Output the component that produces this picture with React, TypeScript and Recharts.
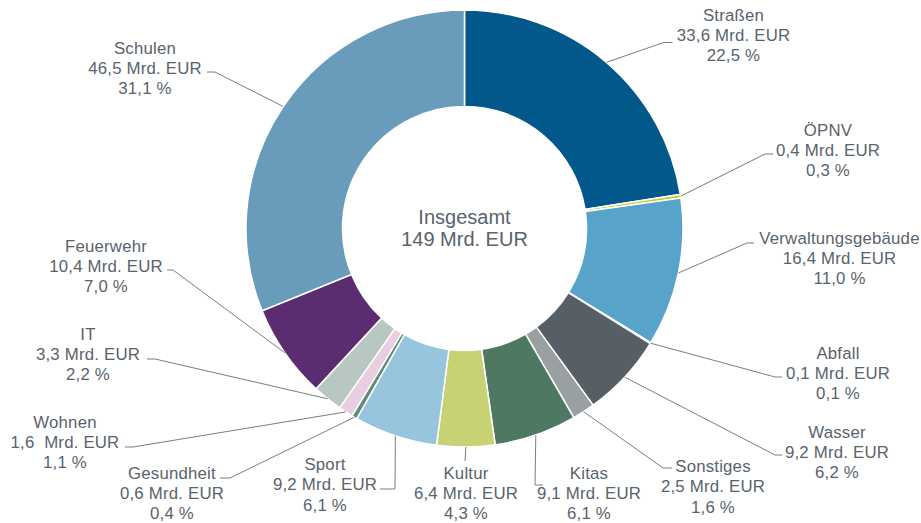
import { PieChart, Pie, Cell, Label } from "recharts";

const NAMES = [
  "Straßen",
  "ÖPNV",
  "Verwaltungsgebäude",
  "Abfall",
  "Wasser",
  "Sonstiges",
  "Kitas",
  "Kultur",
  "Sport",
  "Gesundheit",
  "Wohnen",
  "IT",
  "Feuerwehr",
  "Schulen",
];
const VALUES = [33.6, 0.4, 16.4, 0.1, 9.2, 2.5, 9.1, 6.4, 9.2, 0.6, 1.6, 3.3, 10.4, 46.5];
const SHARES = [22.5, 0.3, 11.0, 0.1, 6.2, 1.6, 6.1, 4.3, 6.1, 0.4, 1.1, 2.2, 7.0, 31.1];
const TOTAL_LABEL = ["Insgesamt", "149 Mrd. EUR"];

const COLORS = [
  "#02588b",
  "#bccf1e",
  "#57a3ca",
  "#8a9096",
  "#575f66",
  "#9a9fa2",
  "#4e7862",
  "#c8d173",
  "#97c5de",
  "#5e8c74",
  "#e9cde1",
  "#b8c7c2",
  "#5b2c6f",
  "#699cbb",
];

const CX = 464.5;
const CY = 228.5;

// label placement relative to the pie centre: text centre, elbow, end of horizontal stub
const LABEL_LAYOUT = [
  { tx: 269, ty: -213.5, ex: 199, ey: -186, sx: 208 },
  { tx: 363.5, ty: -98.5, ex: 300.5, ey: -74.5, sx: 308.5 },
  { tx: 375, ty: 9.5, ex: 282.5, ey: 14.5, sx: 289.5 },
  { tx: 373.5, ty: 124.5, ex: 310.5, ey: 148.5, sx: 317.5 },
  { tx: 372.5, ty: 203.5, ex: 310.5, ey: 226.5, sx: 317.5 },
  { tx: 248.5, ty: 238, ex: 198.5, ey: 239.5, sx: 207.5 },
  { tx: 124.5, ty: 244.5, ex: 70.5, ey: 256.5, sx: 78.5 },
  { tx: 1.5, ty: 244.5, ex: 0.5, ey: 232.5, sx: 0.5 },
  { tx: -139.5, ty: 236, ex: -69.5, ey: 260.5, sx: -84.5 },
  { tx: -292.5, ty: 244.5, ex: -234.5, ey: 249.5, sx: -244.5 },
  { tx: -399.5, ty: 193.5, ex: -331.5, ey: 218.5, sx: -339.5 },
  { tx: -376.5, ty: 105.5, ex: -309.5, ey: 130.5, sx: -317.5 },
  { tx: -358.5, ty: 17.5, ex: -291.5, ey: 41.5, sx: -297.5 },
  { tx: -319.5, ty: -180.5, ex: -249.5, ey: -156.5, sx: -257.5 },
];

const TEXT = "#58636d";
const LINE = "#7d7d7d";
const FONT = "'Liberation Sans', Arial, sans-serif";
const RAD = Math.PI / 180;
const fmt = (n: number) => n.toFixed(1).replace(".", ",");

const data = NAMES.map((name, i) => ({ name, value: VALUES[i], share: SHARES[i] }));

function renderLabel(props: any) {
  const { cx, cy, midAngle, outerRadius, index } = props;
  const l = LABEL_LAYOUT[index];
  const x0 = cx + outerRadius * Math.cos(-midAngle * RAD);
  const y0 = cy + outerRadius * Math.sin(-midAngle * RAD);
  const ex = cx + l.ex;
  const ey = cy + l.ey;
  const sx = cx + l.sx;
  const amount = index === 10 ? `${fmt(VALUES[index])}  Mrd. EUR` : `${fmt(VALUES[index])} Mrd. EUR`;
  const lines = [NAMES[index], amount, `${fmt(SHARES[index])} %`];
  return (
    <g key={`lbl-${index}`}>
      <polyline
        points={`${x0},${y0} ${ex},${ey} ${sx},${ey}`}
        fill="none"
        stroke={LINE}
        strokeWidth={1}
      />
      {lines.map((t, k) => (
        <text
          key={k}
          x={cx + l.tx}
          y={cy + l.ty + k * 20.3}
          textAnchor="middle"
          dominantBaseline="central"
          fill={TEXT}
          fontSize={16.8}
          fontFamily={FONT}
          letterSpacing={0.2}
          style={{ whiteSpace: "pre" }}
        >
          {t}
        </text>
      ))}
    </g>
  );
}

function CenterLabel() {
  return (
    <g>
      {TOTAL_LABEL.map((t, k) => (
        <text
          key={k}
          x={CX}
          y={CY - 12 + k * 22.5}
          textAnchor="middle"
          dominantBaseline="central"
          fill={TEXT}
          fontSize={20}
          fontFamily={FONT}
        >
          {t}
        </text>
      ))}
    </g>
  );
}

export default function App() {
  return (
    <div style={{ position: "absolute", left: 0, top: 0, width: 921, height: 523, background: "#fff" }}>
      <PieChart width={921} height={523} margin={{ top: 0, right: 0, bottom: 0, left: 0 }}>
        <Pie
          data={data}
          dataKey="value"
          nameKey="name"
          cx={CX}
          cy={CY}
          innerRadius={122}
          outerRadius={218.5}
          startAngle={90}
          endAngle={-270}
          stroke="#ffffff"
          strokeWidth={1.5}
          label={renderLabel}
          labelLine={false}
          isAnimationActive={false}
        >
          {data.map((d, i) => (
            <Cell key={d.name} fill={COLORS[i]} />
          ))}
          <Label position="center" content={CenterLabel} />
        </Pie>
      </PieChart>
    </div>
  );
}
